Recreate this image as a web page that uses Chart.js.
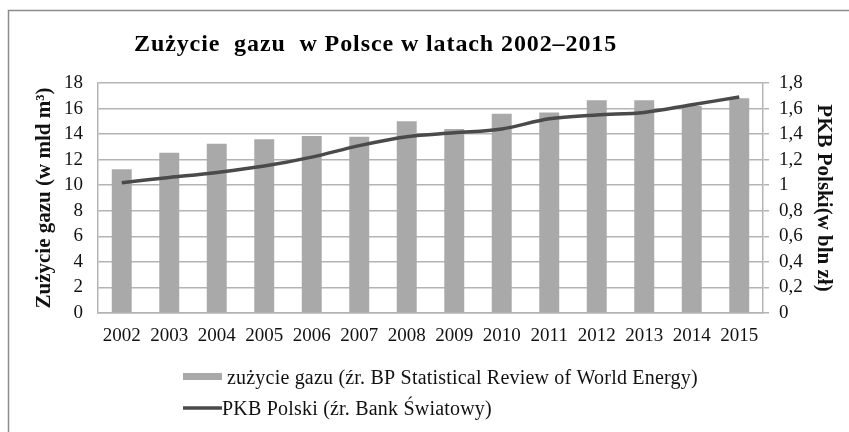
<!DOCTYPE html>
<html lang="pl">
<head>
<meta charset="utf-8">
<title>Zużycie gazu w Polsce w latach 2002–2015</title>
<script src="https://cdn.jsdelivr.net/npm/chart.js@4/dist/chart.umd.min.js"></script>
<style>
  html, body { margin: 0; padding: 0; background: #ffffff; }
  #wrap { position: relative; width: 849px; height: 432px; }
  canvas { display: block; }
</style>
</head>
<body>
<div id="wrap"><canvas id="chart" width="849" height="432"></canvas></div>
<script>
// Lata
const years = ['2002', '2003', '2004', '2005', '2006', '2007', '2008',
               '2009', '2010', '2011', '2012', '2013', '2014', '2015'];

// Zużycie gazu, mld m3 (BP Statistical Review of World Energy)
const gasUse = [11.25, 12.55, 13.25, 13.6, 13.85, 13.8, 15.0,
                14.4, 15.6, 15.7, 16.65, 16.65, 16.2, 16.8];

// PKB Polski, bln zł (Bank Światowy)
const gdp = [1.02, 1.06, 1.10, 1.15, 1.22, 1.31, 1.38,
             1.41, 1.44, 1.52, 1.55, 1.57, 1.63, 1.69];

// Etykiety osi
const leftTicks = [0, 2, 4, 6, 8, 10, 12, 14, 16, 18];
const rightTicks = ['0', '0,2', '0,4', '0,6', '0,8', '1', '1,2', '1,4', '1,6', '1,8'];

const titleText = 'Zużycie  gazu  w Polsce w latach 2002–2015';
const gasLabel = 'zużycie gazu (źr. BP Statistical Review of World Energy)';
const gdpLabel = 'PKB Polski (źr. Bank Światowy)';

const SERIF = '"Liberation Serif", "Times New Roman", serif';
const BAR_GREY = '#a9a9a9';
const LINE_GREY = '#4a4a4a';
const GRID_GREY = '#b4b4b4';

// Ramka, tytuł i legenda rysowane na tym samym płótnie
const decor = {
  id: 'decor',
  beforeDraw(chart) {
    const ctx = chart.ctx;
    ctx.save();
    ctx.strokeStyle = '#8c8c8c';
    ctx.lineWidth = 1.5;
    ctx.strokeRect(8.5, 10.5, 900, 500);
    ctx.restore();
  },
  afterDraw(chart) {
    const ctx = chart.ctx;
    ctx.save();
    ctx.fillStyle = '#000';
    ctx.textBaseline = 'alphabetic';
    ctx.font = 'bold 24px ' + SERIF;
    ctx.letterSpacing = '0.9px';
    ctx.fillText(titleText, 134, 51);

    ctx.font = '20px ' + SERIF;
    ctx.letterSpacing = '0.2px';
    // próbka słupka
    ctx.fillStyle = BAR_GREY;
    ctx.fillRect(183, 373, 39, 7);
    ctx.fillStyle = '#111';
    ctx.fillText(gasLabel, 227, 384);
    // próbka linii
    ctx.strokeStyle = LINE_GREY;
    ctx.lineWidth = 3.5;
    ctx.beginPath();
    ctx.moveTo(183, 408);
    ctx.lineTo(222, 408);
    ctx.stroke();
    ctx.fillText(gdpLabel, 222, 415);
    ctx.restore();
  }
};

new Chart(document.getElementById('chart'), {
  data: {
    labels: years,
    datasets: [
      {
        type: 'line',
        label: gdpLabel,
        data: gdp,
        yAxisID: 'y1',
        borderColor: LINE_GREY,
        borderWidth: 3.5,
        pointRadius: 0,
        tension: 0.35,
        fill: false,
        order: 0
      },
      {
        type: 'bar',
        label: gasLabel,
        data: gasUse,
        yAxisID: 'y',
        backgroundColor: BAR_GREY,
        borderWidth: 0,
        barPercentage: 0.42,
        categoryPercentage: 1.0,
        order: 1
      }
    ]
  },
  options: {
    responsive: false,
    animation: false,
    devicePixelRatio: 1,
    layout: { padding: { top: 83, left: 0, right: 0, bottom: 0 } },
    plugins: {
      legend: { display: false },
      title: { display: false },
      tooltip: { enabled: false }
    },
    scales: {
      x: {
        offset: true,
        grid: { display: false, drawTicks: false },
        border: { display: true, color: GRID_GREY, width: 1.5 },
        ticks: { color: '#111', font: { family: SERIF, size: 19 }, padding: 12, maxRotation: 0, autoSkip: false },
        afterFit(scale) { scale.height = 119; }
      },
      y: {
        position: 'left',
        min: 0,
        max: 18,
        afterBuildTicks(scale) { scale.ticks = leftTicks.map(v => ({ value: v })); },
        grid: { color: GRID_GREY, lineWidth: 1.5, drawTicks: false },
        border: { display: true, color: GRID_GREY, width: 1.5 },
        ticks: { color: '#111', font: { family: SERIF, size: 19 }, padding: 15, autoSkip: false },
        title: {
          display: true,
          text: 'Zużycie gazu (w mld m³)',
          color: '#111',
          font: { family: SERIF, size: 21, weight: 'bold' },
          padding: { top: 32, bottom: 0 }
        },
        afterFit(scale) { scale.width = 98; }
      },
      y1: {
        position: 'right',
        min: 0,
        max: 1.8,
        afterBuildTicks(scale) {
          scale.ticks = rightTicks.map((t, i) => ({ value: leftTicks[i] / 10 }));
        },
        grid: { drawOnChartArea: false, drawTicks: true, tickLength: 6, color: GRID_GREY, lineWidth: 1.5 },
        border: { display: true, color: GRID_GREY, width: 1.5 },
        ticks: {
          color: '#111',
          font: { family: SERIF, size: 19 },
          padding: 10,
          autoSkip: false,
          callback(value, index) { return rightTicks[index]; }
        },
        title: {
          display: true,
          text: 'PKB Polski(w bln zł)',
          color: '#111',
          font: { family: SERIF, size: 21, weight: 'bold' },
          padding: { top: 13, bottom: 0 }
        },
        afterFit(scale) { scale.width = 86; }
      }
    }
  },
  plugins: [decor]
});
</script>
</body>
</html>
